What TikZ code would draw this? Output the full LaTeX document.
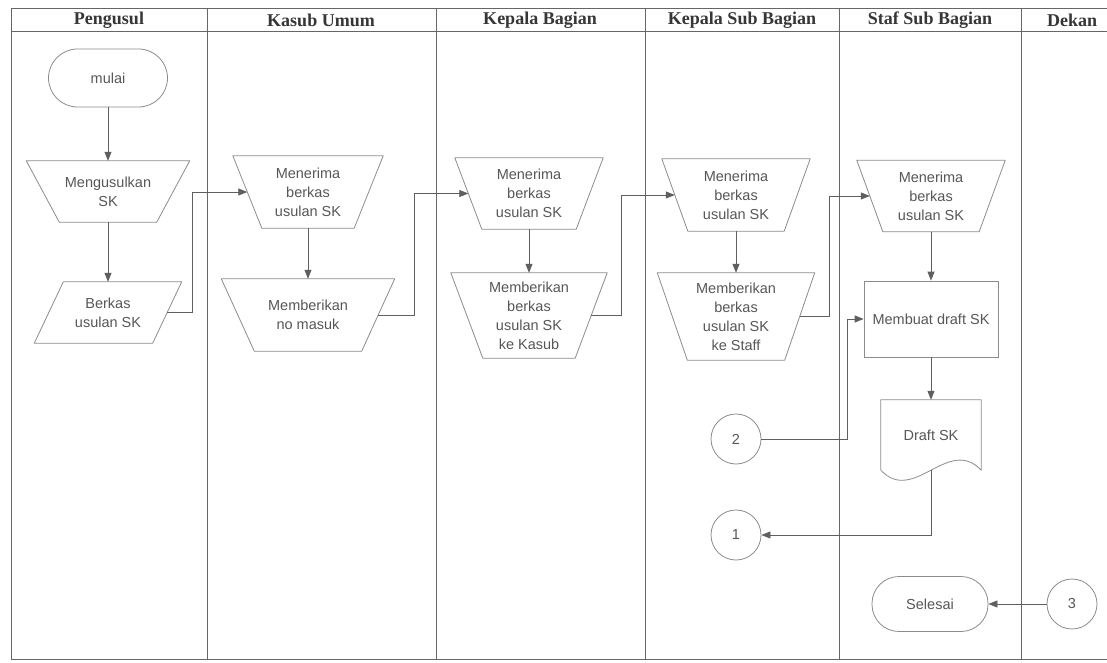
\documentclass[tikz,border=0pt]{standalone}
\usepackage{fontspec}
\setmainfont{Liberation Sans}
\newfontfamily\headfont{Liberation Serif}
\usetikzlibrary{arrows.meta,calc}

\definecolor{frameline}{HTML}{666666}
\definecolor{shapeline}{HTML}{8C8C8C}
\definecolor{bodytext}{HTML}{575757}
\definecolor{headtext}{HTML}{363636}
\definecolor{arrowline}{HTML}{5F5F5F}

% outline of a manual operation (wide top, narrow bottom)
\newcommand\drawmanop[2]{%
  \draw[outline] (#1.north west) -- (#1.north east)
    -- ([xshift=-#2]#1.south east) -- ([xshift=#2]#1.south west) -- cycle;}
% outline of a data parallelogram leaning right
\newcommand\drawdata[2]{%
  \draw[outline] ([xshift=#2]#1.north west) -- (#1.north east)
    -- ([xshift=-#2]#1.south east) -- (#1.south west) -- cycle;}

\begin{document}
\begin{tikzpicture}[x=1pt,y=-1pt,
  lane/.style={draw=frameline, line width=1pt},
  head/.style={font=\headfont\bfseries\fontsize{18}{20}\selectfont,
    text=headtext, inner sep=0pt},
  box/.style={rectangle, inner sep=0pt, align=center, text=bodytext,
    font=\fontsize{14.5}{19}\selectfont},
  outline/.style={draw=shapeline, line width=0.8pt, line join=round},
  terminal/.style={box, draw=shapeline, line width=0.8pt,
    rounded corners=#1},
  connector/.style={box, circle, draw=shapeline, line width=0.8pt,
    minimum size=50pt},
  arr/.style={draw=arrowline, line width=0.8pt,
    -{Triangle[length=9pt,width=7pt]}},
]
\useasboundingbox (0,0) rectangle (1107,663);
\fill[white] (0,0) rectangle (1107,663);

% swimlane frame
\draw[lane] (11,9) -- (1107,9);
\draw[lane] (11,32) -- (1107,32);
\draw[lane] (11,659) -- (1107,659);
\foreach \x in {11,207,436,645,839,1021}
  \draw[lane] (\x,9) -- (\x,659);

% lane titles
\node[head] (hPengusul) at (109,20) {Pengusul};
\node[head] (hKasub)    at (321,20) {Kasub Umum};
\node[head] (hKabag)    at (540,20) {Kepala Bagian};
\node[head] (hKasubag)  at (742,20) {Kepala Sub Bagian};
\node[head] (hStaf)     at (930,20) {Staf Sub Bagian};
\node[head] (hDekan)    at (1072,20) {Dekan};

% Pengusul
\node[terminal=29pt, minimum width=119pt, minimum height=58pt]
  (start) at (108,78) {mulai};
\node[box, minimum width=163pt, minimum height=61pt]
  (usul) at (108,191.5) {Mengusulkan\\SK};
\drawmanop{usul}{33pt}
\node[box, minimum width=147pt, minimum height=61pt]
  (berkas) at (108,312.5) {Berkas\\usulan SK};
\drawdata{berkas}{29pt}

% Kasub Umum
\node[box, minimum width=150pt, minimum height=72pt]
  (kuA) at (308,192) {Menerima\\berkas\\usulan SK};
\drawmanop{kuA}{29pt}
\node[box, minimum width=173pt, minimum height=72pt]
  (kuB) at (308,315) {Memberikan\\no masuk};
\drawmanop{kuB}{33pt}

% Kepala Bagian
\node[box, minimum width=148pt, minimum height=71pt]
  (kbA) at (529,193.5) {Menerima\\berkas\\usulan SK};
\drawmanop{kbA}{27pt}
\node[box, minimum width=156pt, minimum height=85pt]
  (kbB) at (529,315.5) {Memberikan\\berkas\\usulan SK\\ke Kasub};
\drawmanop{kbB}{32pt}

% Kepala Sub Bagian
\node[box, minimum width=148pt, minimum height=72pt]
  (ksA) at (736,195) {Menerima\\berkas\\usulan SK};
\drawmanop{ksA}{26pt}
\node[box, minimum width=157pt, minimum height=87pt]
  (ksB) at (736,316.5) {Memberikan\\berkas\\usulan SK\\ke Staff};
\drawmanop{ksB}{30pt}
\node[connector] (c2) at (736,439) {2};
\node[connector] (c1) at (736,535) {1};

% Staf Sub Bagian
\node[box, minimum width=148pt, minimum height=71pt]
  (sfA) at (931,196) {Menerima\\berkas\\usulan SK};
\drawmanop{sfA}{26pt}
\node[box, draw=shapeline, line width=0.8pt,
  minimum width=134pt, minimum height=76pt]
  (draft) at (931,319) {Membuat draft SK};
\node[box, minimum width=100pt, minimum height=70pt]
  (doc) at (931,435) {Draft SK};
\draw[outline] (doc.south west) -- (doc.north west) -- (doc.north east)
  -- (doc.south east)
  .. controls ($(doc.south east)+(-33,-35)$) and ($(doc.south west)+(33,35)$)
  .. (doc.south west);
\node[terminal=27pt, minimum width=116pt, minimum height=55pt]
  (sel) at (930,604) {Selesai};

% Dekan
\node[connector] (c3) at (1072,604) {3};

% flow within lanes
\draw[arr] (start.south) -- (usul.north);
\draw[arr] (usul.south) -- (berkas.north);
\draw[arr] (kuA.south) -- (kuB.north);
\draw[arr] (kbA.south) -- (kbB.north);
\draw[arr] (ksA.south) -- (ksB.north);
\draw[arr] (sfA.south) -- (draft.north);
\draw[arr] (draft.south) -- (doc.north);

% flow between lanes
\draw[arr] ([xshift=-14.5pt]berkas.east) -- ++(25.5,0) |- ([xshift=14.5pt]kuA.west);
\draw[arr] ([xshift=-16.5pt]kuB.east) -- ++(36,0) |- ([xshift=13.5pt]kbA.west);
\draw[arr] ([xshift=-16pt]kbB.east) -- ++(30,0) |- ([xshift=13pt]ksA.west);
\draw[arr] ([xshift=-15pt]ksB.east) -- ++(29.5,0) |- ([xshift=13pt]sfA.west);

% off-page connectors
\draw[arr] (c2.east) -- ++(86,0) |- (draft.west);
\draw[arr] (doc.south) |- (c1.east);
\draw[arr] (c3.west) -- (sel.east);
\end{tikzpicture}
\end{document}
